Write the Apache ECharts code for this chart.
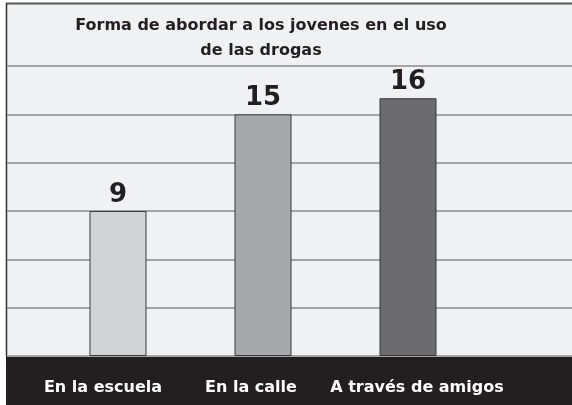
<!DOCTYPE html>
<html><head><meta charset="utf-8">
<script src="https://cdn.jsdelivr.net/npm/echarts@6/dist/echarts.min.js"></script>
<style>html,body{margin:0;padding:0;background:#fff}#c{width:572px;height:405px}</style>
</head><body><div id="c"></div>
<script>
const titleLines = ['Forma de abordar a los jovenes en el uso', 'de las drogas'];
const categories = ['En la escuela', 'En la calle', 'A través de amigos'];
const values = [9, 15, 16];
const barColors = ['#d1d2d4', '#a7a8ab', '#6c6c6f'];
const labelShifts = [[0, 30, 0, 0], [0, 24, 0, 0], [0, 0, 0, 18]];
const yMax = 18, yStep = 3;

const FONT = 'DejaVu Sans';
const chart = echarts.init(document.getElementById('c'));
chart.setOption({
  backgroundColor: '#ffffff',
  animation: false,
  title: {
    text: titleLines.join('\n'), left: 256, top: 8, textAlign: 'center',
    textStyle: {fontFamily: FONT, fontWeight: 'bold', fontSize: 16, lineHeight: 25, color: '#231f20'}
  },
  graphic: [
    {type: 'rect', z: -10, shape: {x: 6, y: 3, width: 566, height: 353}, style: {fill: '#f0f1f3'}},
    {type: 'rect', z: -10, shape: {x: 6, y: 356, width: 566, height: 49}, style: {fill: '#231f20'}},
    {type: 'line', z: -9, shape: {x1: 6, y1: 3.5, x2: 572, y2: 3.5}, style: {stroke: '#555', lineWidth: 2}},
    {type: 'line', z: -9, shape: {x1: 6.5, y1: 3, x2: 6.5, y2: 356}, style: {stroke: '#333', lineWidth: 1.5}}
  ],
  grid: [
    {left: 45.5, right: 91.5, top: 66, bottom: 49},
    {left: 7, right: 0, top: 66, bottom: 49}
  ],
  xAxis: [
    {type: 'category', gridIndex: 0,
     data: categories.map((c, i) => ({value: c, textStyle: {padding: labelShifts[i]}})),
     axisLine: {show: false}, axisTick: {show: false},
     axisLabel: {interval: 0, margin: 24, color: '#ffffff', fontFamily: FONT, fontWeight: 'bold', fontSize: 16}},
    {type: 'value', gridIndex: 1, show: false, min: 0, max: 1}
  ],
  yAxis: [
    {type: 'value', gridIndex: 0, min: 0, max: yMax, interval: yStep, show: false},
    {type: 'value', gridIndex: 1, min: 0, max: yMax, interval: yStep,
     axisLine: {show: false}, axisTick: {show: false}, axisLabel: {show: false},
     splitLine: {show: true, lineStyle: {color: '#a3a4a6', width: 2}}}
  ],
  series: [{
    type: 'bar', xAxisIndex: 0, yAxisIndex: 0, barWidth: 57,
    data: values.map((v, i) => ({value: v, itemStyle: {color: barColors[i]}})),
    itemStyle: {borderColor: '#3a3a3a', borderWidth: 1},
    label: {show: true, position: 'top', distance: 3, color: '#231f20',
            fontFamily: FONT, fontWeight: 'bold', fontSize: 26}
  }]
});
</script></body></html>
